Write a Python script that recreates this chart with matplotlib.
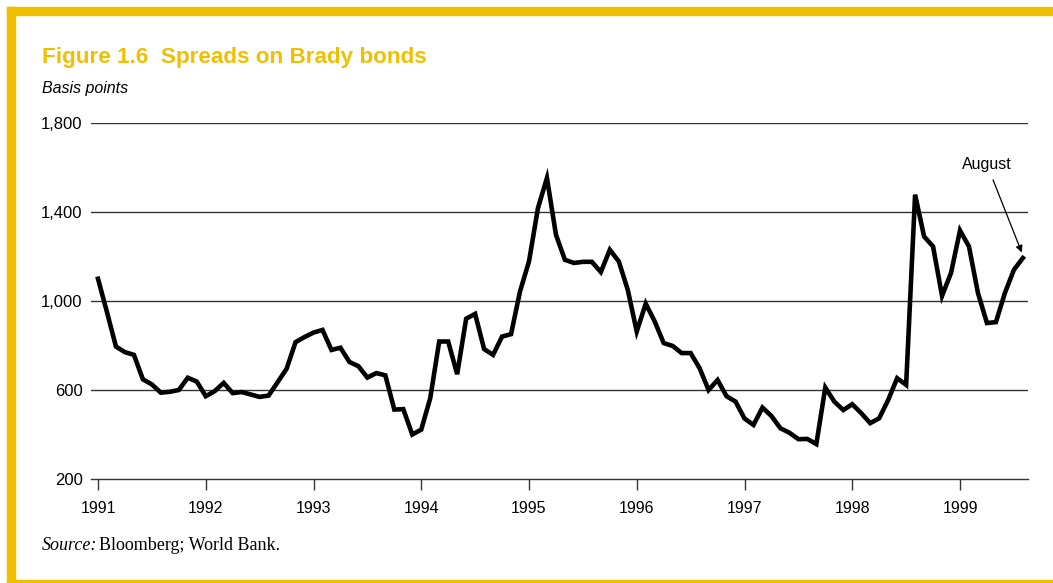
import numpy as np
import matplotlib.pyplot as plt
from matplotlib.patches import Rectangle

# monthly spreads, Jan 1991 - Aug 1999 (basis points)
spreads_1991 = [1100, 950, 795, 770, 758, 648, 625, 588, 592, 600, 655, 638]
spreads_1992 = [572, 595, 632, 586, 591, 580, 569, 575, 635, 695, 815, 838]
spreads_1993 = [858, 870, 780, 790, 726, 707, 656, 676, 666, 512, 514, 400]
spreads_1994 = [422, 563, 818, 818, 671, 920, 942, 784, 758, 840, 851, 1043]
spreads_1995 = [1178, 1418, 1553, 1298, 1185, 1171, 1176, 1176, 1130, 1230, 1178, 1050]
spreads_1996 = [863, 988, 908, 811, 798, 766, 766, 698, 600, 645, 572, 548]
spreads_1997 = [472, 443, 521, 483, 428, 408, 379, 380, 357, 611, 548, 510]
spreads_1998 = [536, 496, 451, 473, 555, 653, 623, 1478, 1290, 1245, 1023, 1126]
spreads_1999 = [1317, 1245, 1036, 901, 905, 1036, 1140, 1193]

years = list(range(1991, 2000))
y_ticks = [200, 600, 1000, 1400, 1800]
y_tick_labels = ['200', '600', '1,000', '1,400', '1,800']

GOLD = '#F0C000'
W, H = 1053, 583

spreads = (spreads_1991 + spreads_1992 + spreads_1993 + spreads_1994 + spreads_1995
           + spreads_1996 + spreads_1997 + spreads_1998 + spreads_1999)
t = 1991 + np.arange(len(spreads)) / 12.0

fig = plt.figure(figsize=(W / 100, H / 100), dpi=100)

# gold frame
fig.patches.append(Rectangle((7 / W, 0), 8 / W, (H - 7) / H, transform=fig.transFigure,
                             color=GOLD, zorder=0))
fig.patches.append(Rectangle((7 / W, (H - 15) / H), 1 - 7 / W, 8 / H, transform=fig.transFigure,
                             color=GOLD, zorder=0))
fig.patches.append(Rectangle((7 / W, 0), 1 - 7 / W, 3 / H, transform=fig.transFigure,
                             color=GOLD, zorder=0))

left, right, top, bottom = 91, 1028, 123, 479
ax = fig.add_axes([left / W, (H - bottom) / H, (right - left) / W, (bottom - top) / H])

px_per_year = 107.75
ax.set_xlim(1991 - (98 - left) / px_per_year, 1991 + (right - 98) / px_per_year)
ax.set_ylim(200, 1800)

for v in y_ticks[1:]:
    ax.axhline(v, color='#333333', lw=1.0, zorder=1)

ax.plot(t, spreads, color='black', lw=3.3, solid_joinstyle='miter', zorder=3)

for s in ['top', 'right', 'left']:
    ax.spines[s].set_visible(False)
ax.spines['bottom'].set_color('#333333')
ax.spines['bottom'].set_linewidth(1.0)

ax.set_xticks(years)
ax.set_xticklabels([str(y) for y in years], fontsize=11.5, family='Liberation Sans')
ax.tick_params(axis='x', direction='out', length=8, width=1, color='#333333', pad=7.5)
ax.set_yticks(y_ticks)
ax.set_yticklabels(y_tick_labels, fontsize=12, family='Liberation Sans')
ax.tick_params(axis='y', length=0, pad=6)

ax.annotate('August', xy=(t[-1] - 0.01, spreads[-1] + 25), xytext=(1999.25, 1580),
            fontsize=11.5, family='Liberation Sans', ha='center', va='bottom',
            arrowprops=dict(arrowstyle='-|>', color='black', lw=0.9,
                            mutation_scale=10, shrinkA=4, shrinkB=0))

fig.text(42 / W, 1 - 57 / H, 'Figure 1.6  Spreads on Brady bonds', color=GOLD,
         fontsize=16.2, fontweight='bold', family='Liberation Sans', va='center')
fig.text(42 / W, 1 - 88 / H, 'Basis points', fontsize=11.5, style='italic',
         family='Liberation Sans', va='center')
fig.text(42 / W, 1 - 546 / H, 'Source:', fontsize=13, style='italic',
         family='Liberation Serif', va='center')
fig.text(99 / W, 1 - 546 / H, 'Bloomberg; World Bank.', fontsize=13,
         family='Liberation Serif', va='center')

fig.savefig('out.png', dpi=100)
